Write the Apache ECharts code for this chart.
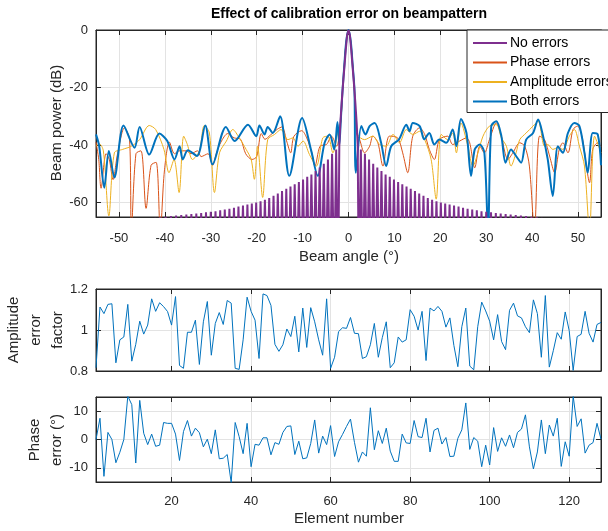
<!DOCTYPE html>
<html>
<head>
<meta charset="utf-8">
<script src="https://cdn.jsdelivr.net/npm/echarts@6/dist/echarts.min.js"></script>
<style>
  html, body { margin: 0; padding: 0; background: #fff; }
  #main { width: 608px; height: 531px; }
</style>
</head>
<body>
<div id="main"></div>
<script>
// element errors
var amplitudeError = [
  0.816,1.112,1.08,1.125,1.128,0.84,0.952,0.966,1.125,0.848,
  0.93,1.043,0.98,1.024,1.152,1.091,1.133,1.114,1.09,1.024,
  1.163,0.827,0.813,0.989,0.989,1.048,0.832,1.04,1.139,0.877,
  1.032,1.085,1.027,1.144,1.131,0.813,0.808,0.952,1.16,1.091,
  1.048,0.861,1.176,1.168,1.12,0.93,0.896,0.928,1.005,0.968,
  1.067,0.893,1.107,0.915,1.109,1.04,0.952,0.877,1.152,0.813,
  0.867,0.992,1.011,1.008,1.061,0.984,0.982,0.861,0.87,0.928,
  1.032,0.867,0.963,1.04,0.816,0.84,0.966,0.941,0.952,1.099,
  1.067,1.0,1.091,0.851,1.107,1.093,1.115,1.091,1.014,1.059,
  0.925,0.821,1.016,1.107,0.824,0.806,1.016,1.136,1.093,1.043,
  0.952,1.075,0.944,0.904,1.096,1.131,1.069,1.059,1.016,0.987,
  1.147,1.08,0.867,1.168,0.819,0.899,0.987,0.955,1.088,0.997,
  0.803,0.968,0.979,1.091,0.984,0.941,1.027,1.037
];
var phaseError = [
  0,7.5,-13,2.5,0,-8.2,-4.5,0,15.3,12.3,
  -8.3,13.8,2.2,-1.8,1.9,-2.4,-2,6,5.7,5.7,
  1.9,-7.4,2.8,6.7,1.2,4,2.4,-2.6,0.1,-5,
  3.4,-6.8,-6.6,-5.3,-15.2,6,1,-5,5.7,-9.6,
  -1.7,-2,0.6,0.6,-5.4,-1.1,-1.7,2.5,4.6,4.8,
  -5.3,-0.6,-6.8,-6.5,-1.4,6.9,-4.8,1.2,-1.8,4.9,
  -6,-0.8,1.8,4.6,7.2,-1,-8,-4.4,-5.9,11.2,
  -3.6,3.1,-1.4,4,-4.1,-7.7,-7.7,1.9,-1.2,-1.4,
  6.7,1,0.7,7.5,-4.4,3.2,4,-1.6,0.7,-6,
  -5.9,0.4,3.4,12.9,-3.5,0.7,-0.6,-9.6,-2,-9,
  4.2,-4.2,0.6,-2.4,1.6,-2.9,2.5,3.7,8.7,-2.6,
  -10.4,-4.4,6.9,-5,5.1,1.2,7.5,-9.5,-0.8,-5.9,
  15.3,4.6,7.3,-4.8,-2,-1.1,5.7,0.1
];

// ideal pattern, positive half (it is symmetric); -90 = null below the axis
var noErrAngle = [0,0.3,0.6,0.9,1.2,1.5,1.8,2.0,2.25,
  2.69,3.13,3.58,4.03,4.48,4.93,5.38,5.83,6.28,6.73,7.18,7.63,8.08,8.54,8.99,9.44,9.90,10.35,
  10.81,11.26,11.72,12.18,12.64,13.10,13.55,14.02,14.48,14.94,15.40,15.87,16.33,16.80,17.27,
  17.74,18.21,18.68,19.16,19.63,20.11,20.58,21.06,21.54,22.02,22.51,22.99,23.48,23.97,24.46,
  24.95,25.45,25.94,26.44,26.95,27.45,27.95,28.46,28.97,29.49,30.00,30.52,31.04,31.56,32.09,
  32.62,33.15,33.69,34.23,34.77,35.32,35.87,36.43,36.98,37.55,38.11,38.68,39.26,39.84,40.42,
  41.01,41.61,42.21];
var noErrDb = [0,-1.8,-7,-13,-19,-25.5,-33,-40,-90,
  -41.5,-90,-43,-90,-45,-90,-46.5,-90,-47.8,-90,-49,-90,-50.2,-90,-51,-90,-52,-90,
  -52.8,-90,-53.6,-90,-54.4,-90,-55.2,-90,-56,-90,-56.8,-90,-57.6,-90,-58.4,
  -90,-59,-90,-59.5,-90,-60,-90,-60.3,-90,-60.7,-90,-61,-90,-61.4,-90,
  -61.8,-90,-62.1,-90,-62.4,-90,-62.7,-90,-63,-90,-63.2,-90,-63.4,-90,-63.6,
  -90,-63.8,-90,-64,-90,-64.1,-90,-64.3,-90,-64.5,-90,-64.7,-90,-64.9,-90,
  -65.1,-90,-65.3];

// [angle, dB] vertices
var phaseErrPattern = [[-55,-39],[-54.4,-45],[-53.9,-55],[-52.8,-43],[-52.1,-45],[-51.3,-52],[-50.3,-43],
  [-48.8,-34],[-47.7,-38],[-47.3,-70],[-46.3,-43],[-45.2,-42],[-44.1,-62],[-43,-47],[-41.9,-46],[-41,-70],
  [-40.1,-49],[-39,-39],[-37.9,-43],[-36.9,-42],[-35.4,-42],[-34.3,-43],[-32.9,-42],[-32.1,-44],[-30.6,-43],
  [-29.6,-47],[-28.8,-43],[-27.8,-39],[-26.3,-36],[-24.9,-37.5],[-23.5,-38],[-22.4,-43],[-21,-45],[-20,-44],
  [-19,-36],[-18.2,-38],[-17,-36.5],[-15.5,-34.5],[-14.5,-33.7],[-13.4,-39],[-12.6,-42.7],[-11.9,-37],
  [-10.2,-35],[-9.1,-37.5],[-8,-42.7],[-7.3,-47.3],[-6.2,-40.4],[-4.8,-39.8],[-3.7,-36.9],[-2.6,-40.4],
  [-1.7,-32],[-1.3,-21],[-0.9,-12],[-0.5,-4],[0,0],[0.5,-4],[0.9,-12],[1.3,-21],[1.7,-35.8],[2.4,-38],
  [3.5,-42.7],[4.6,-40.4],[5.3,-36.9],[6.4,-39.2],[7.5,-47.3],[8.9,-36.9],[10.7,-37.5],[11.8,-42.7],
  [12.9,-49.6],[14,-36.9],[15.5,-34],[16.6,-36.3],[17.6,-41.5],[18.7,-45],[19.8,-38.1],[21.6,-36.9],
  [22.7,-39.8],[24.2,-38.6],[25.7,-37.5],[26.4,-39.2],[27.5,-47.9],[28.6,-40.4],[29.6,-42.7],[30.7,-38.1],
  [32.2,-32.3],[33.3,-36.9],[34,-42.1],[34.7,-45],[35.8,-42.7],[37.3,-39.2],[38.4,-40.4],[39.4,-47.3],
  [40.5,-70],[41.6,-36.9],[42.7,-38.1],[43.8,-43.8],[44.9,-49.6],[45.9,-41.5],[46.7,-39.2],[47.8,-42.7],
  [48.9,-34.6],[49.9,-33.4],[51,-38.1],[51.8,-47.3],[52.5,-53.1],[53.2,-41.5],[54.3,-39.2],[55,-40.4]];

var ampErrPattern = [[-55,-40.4],[-54.3,-39.5],[-53.4,-42],[-52.2,-64.6],[-51,-42.7],[-49.2,-41.5],
  [-47.3,-40.4],[-45.5,-38.1],[-43.4,-33.2],[-42,-34.6],[-40.2,-41.5],[-39.1,-49.6],[-38,-45],
  [-36.9,-56.5],[-35.9,-36.9],[-35.1,-39.8],[-34,-45],[-32.5,-42.1],[-31.4,-33.2],[-30.3,-35.8],
  [-29.2,-56.5],[-28.1,-42.7],[-26.6,-38.6],[-25.2,-34.6],[-23.8,-37.5],[-22.3,-41.5],[-21.2,-45],
  [-20.5,-51.9],[-19.8,-40.4],[-18.7,-58.2],[-17.6,-38.1],[-16.1,-36.3],[-14.7,-34.6],[-13.2,-38.1],
  [-12.1,-37.5],[-11,-40.4],[-9.9,-38.6],[-8.5,-43.3],[-7,-47.3],[-5.6,-37.5],[-4.5,-36.9],[-3.4,-42.7],
  [-2.4,-36],[-1.7,-32],[-1.3,-21],[-0.9,-12],[-0.5,-4],[0,0],[0.5,-4],[0.9,-12],[1.3,-21],[2,-36.3],
  [3.5,-38.1],[5.3,-36.9],[6.8,-39.8],[8.2,-40.4],[9.7,-36.3],[11.1,-39.2],[12.6,-34.6],[14,-36.3],
  [15.5,-35.2],[16.6,-38.1],[18,-45],[19.1,-58.8],[20.2,-36.3],[21.6,-38.1],[22.7,-35.8],[23.5,-42.7],
  [24.5,-32.3],[26,-40.4],[27.1,-47.3],[28.2,-42.7],[29.3,-36.9],[30.7,-33.4],[32.2,-32.9],[33.3,-37.5],
  [34.4,-40.4],[35.4,-47.3],[36.5,-42.7],[37.3,-38.1],[38.7,-35.8],[40.2,-33.4],[41.3,-31.7],[42.7,-40.4],
  [43.4,-39.8],[44.5,-41.5],[45.6,-40.9],[46.7,-41.5],[48.1,-36.9],[49.2,-34.6],[50.3,-40.4],[51.4,-47.3],
  [52.5,-70],[53.6,-36.9],[55,-42.7]];

var bothErrPattern = [[-55,-36.3],[-54.3,-40.4],[-53.2,-54.8],[-52.2,-42.1],[-51,-51.3],[-49,-33.2],
  [-46.6,-40.9],[-45.5,-33.7],[-43.4,-43.3],[-41.2,-36],[-39.5,-38.5],[-37.9,-45],[-36.8,-40.4],
  [-36.1,-45],[-35,-41.8],[-33,-43.8],[-31.2,-33.2],[-29.6,-46.7],[-26.7,-33.7],[-24.8,-38.6],
  [-21.9,-32.9],[-20.1,-36.9],[-19.4,-33.2],[-18.3,-36.3],[-17.6,-33.7],[-16.5,-35.8],[-14.9,-30],
  [-12.9,-50.7],[-10.1,-30.6],[-8.1,-42.1],[-6.7,-50.7],[-5.2,-39.2],[-4.1,-36.3],[-3.1,-41.5],
  [-2.4,-32],[-2.0,-40],[-1.7,-32],[-1.3,-21],[-0.9,-12],[-0.5,-4],[0,0],[0.5,-4],[0.9,-12],[1.3,-21],
  [1.6,-49.6],[2.8,-33.4],[3.7,-36.3],[4.6,-33.4],[5.7,-32.3],[7.1,-39.2],[8.2,-47.3],[9.3,-40.4],
  [11,-38],[12.6,-32.9],[13.3,-35.2],[14,-32.3],[15.5,-33.4],[16.5,-38],[17.6,-35.8],[18.7,-39.8],
  [19.8,-38.1],[21.3,-39.2],[22.7,-34.6],[23.5,-40.4],[24.5,-30.9],[25.7,-35.8],[26.7,-50.7],
  [27.5,-41.5],[28.6,-39.8],[29.6,-42.7],[30.4,-70],[31.1,-33.4],[32.2,-31.7],[33.3,-36.9],[34.2,-46.1],
  [35.4,-41.5],[36.5,-43.8],[37.6,-46.1],[38.7,-38.1],[40.2,-35.8],[41.3,-31.1],[42.3,-36.3],
  [43.4,-45],[44.5,-57.7],[45.6,-40.4],[46.7,-42.7],[47.8,-35.8],[49.2,-32.3],[50.3,-33.4],[51.4,-42.7],
  [52.1,-49.6],[53.2,-35.8],[54.3,-36.3],[55,-47]];

var FONT = '"Liberation Sans", Arial, Helvetica, sans-serif';
var INK = '#262626';

var noErrData = [];
for (var i = noErrAngle.length - 1; i > 0; i--) noErrData.push([-noErrAngle[i], noErrDb[i]]);
for (var i = 0; i < noErrAngle.length; i++) noErrData.push([noErrAngle[i], noErrDb[i]]);

var ampData = amplitudeError.map(function (v, i) { return [i + 1, v]; });
var phaseData = phaseError.map(function (v, i) { return [i + 1, v]; });

function ax(extra) {
  var base = {
    type: 'value',
    axisLine: { show: true, onZero: false, lineStyle: { color: INK, width: 1 } },
    axisTick: { show: true, inside: true, length: 5, lineStyle: { color: INK } },
    axisLabel: { color: INK, fontSize: 13, fontFamily: FONT, showMinLabel: false, showMaxLabel: false },
    splitLine: { show: true, lineStyle: { color: '#e3e3e3', width: 1 } }
  };
  return Object.assign(base, extra);
}
function mirrorAx(extra) {
  return ax(Object.assign({ axisLabel: { show: false }, splitLine: { show: false } }, extra));
}
function lbl(extra) {
  return Object.assign({ color: INK, fontSize: 13, fontFamily: FONT, showMinLabel: false, showMaxLabel: false }, extra);
}

var grids = [
  { left: 96, top: 30, width: 505, height: 187 },
  { left: 96, top: 289, width: 505, height: 82 },
  { left: 96, top: 397, width: 505, height: 85 }
];

var myChart = echarts.init(document.getElementById('main'));
var option = {
  animation: false,
  backgroundColor: '#fff',
  grid: grids.map(function (g) { return Object.assign({ show: true, borderColor: INK, borderWidth: 1, containLabel: false }, g); }),
  xAxis: [
    ax({ gridIndex: 0, min: -55, max: 55, splitNumber: 11, axisLabel: lbl({ margin: 15 }) }),
    ax({ gridIndex: 1, min: 1, max: 128, splitNumber: 6, axisLabel: { show: false } }),
    ax({ gridIndex: 2, min: 1, max: 128, splitNumber: 6, axisLabel: lbl({ margin: 13 }) }),
    mirrorAx({ gridIndex: 0, position: 'top', min: -55, max: 55, splitNumber: 11 }),
    mirrorAx({ gridIndex: 1, position: 'top', min: 1, max: 128, splitNumber: 6 }),
    mirrorAx({ gridIndex: 2, position: 'top', min: 1, max: 128, splitNumber: 6 })
  ],
  yAxis: [
    ax({ gridIndex: 0, min: -65, max: 0, splitNumber: 3, axisLabel: lbl({ margin: 8, showMaxLabel: true }) }),
    ax({ gridIndex: 1, min: 0.8, max: 1.2, interval: 0.2, axisLabel: lbl({ margin: 8, showMinLabel: true, showMaxLabel: true }) }),
    ax({ gridIndex: 2, min: -15, max: 15, splitNumber: 3, axisLabel: lbl({ margin: 8 }) }),
    mirrorAx({ gridIndex: 0, position: 'right', min: -65, max: 0, splitNumber: 3 }),
    mirrorAx({ gridIndex: 1, position: 'right', min: 0.8, max: 1.2, interval: 0.2 }),
    mirrorAx({ gridIndex: 2, position: 'right', min: -15, max: 15, splitNumber: 3 })
  ],
  legend: {
    data: ['No errors', 'Phase errors', 'Amplitude errors', 'Both errors'],
    orient: 'vertical',
    left: 467, top: 30,
    itemWidth: 34, itemHeight: 14, itemGap: 5.5,
    padding: [6, 6, 4, 5],
    itemStyle: { opacity: 0 },
    backgroundColor: '#fff', borderColor: INK, borderWidth: 1, borderRadius: 0,
    textStyle: { fontSize: 14, fontFamily: FONT, color: '#000', padding: [0, 0, 0, -2] }
  },
  graphic: [
    { type: 'text', x: 349, y: 14, style: { text: 'Effect of calibration error on beampattern', font: 'bold 14px ' + FONT, fill: '#000', align: 'center', verticalAlign: 'middle' } },
    { type: 'text', x: 349, y: 257, style: { text: 'Beam angle (°)', font: '15px ' + FONT, fill: INK, align: 'center', verticalAlign: 'middle' } },
    { type: 'text', x: 349, y: 519, style: { text: 'Element number', font: '15px ' + FONT, fill: INK, align: 'center', verticalAlign: 'middle' } },
    { type: 'text', x: 57, y: 123, rotation: Math.PI / 2, style: { text: 'Beam power (dB)', font: '15px ' + FONT, fill: INK, align: 'center', verticalAlign: 'middle' } },
    { type: 'text', x: 36, y: 330, rotation: Math.PI / 2, style: { text: 'Amplitude\nerror\nfactor', font: '15px ' + FONT, lineHeight: 22, fill: INK, align: 'center', verticalAlign: 'middle' } },
    { type: 'text', x: 46, y: 440, rotation: Math.PI / 2, style: { text: 'Phase\nerror (°)', font: '15px ' + FONT, lineHeight: 22, fill: INK, align: 'center', verticalAlign: 'middle' } }
  ],
  series: [
    { name: 'Phase errors', type: 'line', xAxisIndex: 0, yAxisIndex: 0, data: phaseErrPattern, symbol: 'none', smooth: 0.3, lineStyle: { color: '#D95319', width: 1 }, itemStyle: { color: '#D95319' }, z: 2 },
    { name: 'Amplitude errors', type: 'line', xAxisIndex: 0, yAxisIndex: 0, data: ampErrPattern, symbol: 'none', smooth: 0.3, lineStyle: { color: '#EDB120', width: 1 }, itemStyle: { color: '#EDB120' }, z: 3 },
    { name: 'Both errors', type: 'line', xAxisIndex: 0, yAxisIndex: 0, data: bothErrPattern, symbol: 'none', smooth: 0.3, lineStyle: { color: '#0072BD', width: 2 }, itemStyle: { color: '#0072BD' }, z: 4 },
    { name: 'No errors', type: 'line', xAxisIndex: 0, yAxisIndex: 0, data: noErrData, symbol: 'none', lineStyle: { color: '#7E2F8E', width: 2 }, itemStyle: { color: '#7E2F8E' }, z: 5 },
    { type: 'line', xAxisIndex: 1, yAxisIndex: 1, data: ampData, symbol: 'none', lineStyle: { color: '#0072BD', width: 1 } },
    { type: 'line', xAxisIndex: 2, yAxisIndex: 2, data: phaseData, symbol: 'none', lineStyle: { color: '#0072BD', width: 1 } }
  ]
};
myChart.setOption(option);
</script>
</body>
</html>
